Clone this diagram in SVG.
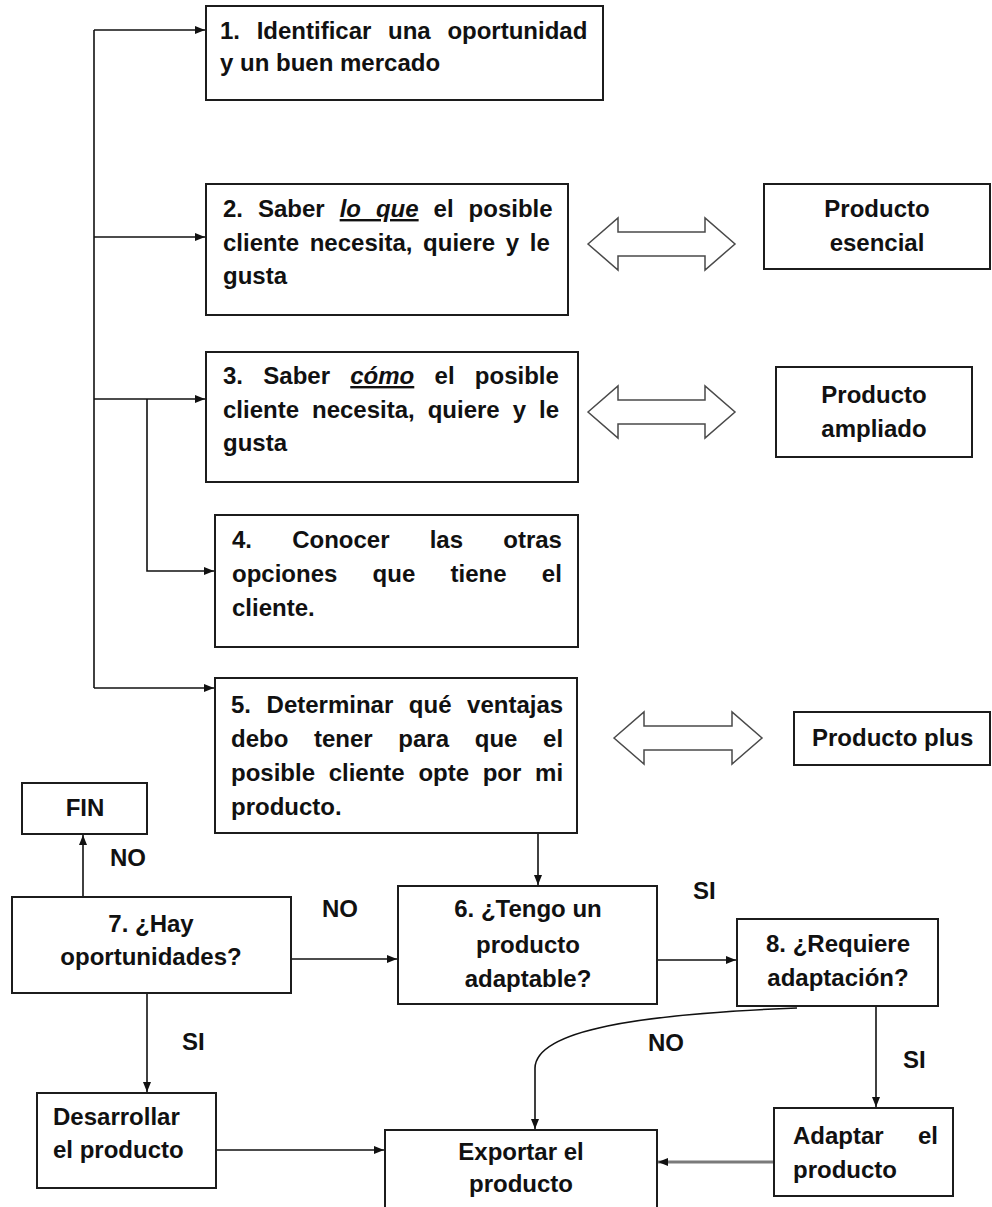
<svg xmlns="http://www.w3.org/2000/svg" width="992" height="1207" viewBox="0 0 992 1207">
  <defs>
    <style>
      .box { fill: #ffffff; stroke: #1c1c1c; stroke-width: 2; }
      .t { font-family: "Liberation Sans", Arial, Helvetica, sans-serif; font-weight: bold; font-size: 24px; fill: #111111; }
      .c { text-anchor: middle; }
      .u { font-style: italic; text-decoration: underline; }
      .ln { fill: none; stroke: #111111; stroke-width: 1.6; }
      .arr { fill: none; stroke: #111111; stroke-width: 1.6; marker-end: url(#ah); }
      .grey { fill: none; stroke: #7a7a7a; stroke-width: 3; marker-end: url(#ah); }
      .dbl { fill: #ffffff; stroke: #4a4a4a; stroke-width: 1.5; stroke-linejoin: miter; }
    </style>
    <marker id="ah" markerWidth="10" markerHeight="8" refX="10" refY="4" orient="auto" markerUnits="userSpaceOnUse">
      <path d="M0,0 L10,4 L0,8 z" fill="#111111"/>
    </marker>
  </defs>

  <rect width="992" height="1207" fill="#ffffff"/>

  <!-- connectors -->
  <g id="connectors">
    <path class="ln" d="M94 30 V688"/>
    <path class="arr" d="M94 30 H205"/>
    <path class="arr" d="M94 237 H205"/>
    <path class="arr" d="M94 399 H205"/>
    <path class="arr" d="M94 688 H214"/>
    <path class="arr" d="M147 399 V571 H214"/>
    <path class="arr" d="M538 833 V885"/>
    <path class="arr" d="M83 897 V835"/>
    <path class="arr" d="M291 959 H397"/>
    <path class="arr" d="M657 960 H736"/>
    <path class="arr" d="M797 1008 C640 1014 536 1030 535 1068 V1129"/>
    <path class="arr" d="M876 1006 V1107"/>
    <path class="grey" d="M774 1162 H658"/>
    <path class="arr" d="M147 993 V1092"/>
    <path class="arr" d="M216 1150 H384"/>

    <!-- two-headed outline arrows -->
    <polygon class="dbl" points="588,244 618,218 618,232 705,232 705,218 735,244 705,270 705,256 618,256 618,270"/>
    <polygon class="dbl" points="588,412 618,386 618,400 705,400 705,386 735,412 705,438 705,424 618,424 618,438"/>
    <polygon class="dbl" points="614,738 644,712 644,726 732,726 732,712 762,738 732,764 732,750 644,750 644,764"/>

    <!-- branch labels -->
    <text class="t" x="110" y="866">NO</text>
    <text class="t" x="322" y="917">NO</text>
    <text class="t" x="693" y="899">SI</text>
    <text class="t" x="648" y="1051">NO</text>
    <text class="t" x="903" y="1068">SI</text>
    <text class="t" x="182" y="1050">SI</text>
  </g>

  <g id="n1">
    <rect class="box" x="206" y="6" width="397" height="94"/>
    <text class="t" x="220" y="39" style="word-spacing:10px">1. Identificar una oportunidad</text>
    <text class="t" x="220" y="71">y un buen mercado</text>
  </g>

  <g id="n2">
    <rect class="box" x="206" y="184" width="362" height="131"/>
    <text class="t" x="223" y="217" style="word-spacing:8.3px">2. Saber <tspan class="u">lo que</tspan> el posible</text>
    <text class="t" x="223" y="251" style="word-spacing:4px">cliente necesita, quiere y le</text>
    <text class="t" x="223" y="284">gusta</text>
  </g>

  <g id="n3">
    <rect class="box" x="206" y="352" width="372" height="130"/>
    <text class="t" x="223" y="384" style="word-spacing:13.6px">3. Saber <tspan class="u">cómo</tspan> el posible</text>
    <text class="t" x="223" y="418" style="word-spacing:6.3px">cliente necesita, quiere y le</text>
    <text class="t" x="223" y="451">gusta</text>
  </g>

  <g id="n4">
    <rect class="box" x="215" y="515" width="363" height="132"/>
    <text class="t" x="232" y="548" style="word-spacing:33.5px">4. Conocer las otras</text>
    <text class="t" x="232" y="582" style="word-spacing:28.6px">opciones que tiene el</text>
    <text class="t" x="232" y="616">cliente.</text>
  </g>

  <g id="n5">
    <rect class="box" x="215" y="678" width="362" height="155"/>
    <text class="t" x="231" y="713" style="word-spacing:8.9px">5. Determinar qué ventajas</text>
    <text class="t" x="231" y="747" style="word-spacing:19px">debo tener para que el</text>
    <text class="t" x="231" y="781" style="word-spacing:7px">posible cliente opte por mi</text>
    <text class="t" x="231" y="815">producto.</text>
  </g>

  <g id="esencial">
    <rect class="box" x="764" y="184" width="226" height="85"/>
    <text class="t c" x="877" y="217">Producto</text>
    <text class="t c" x="877" y="251">esencial</text>
  </g>

  <g id="ampliado">
    <rect class="box" x="776" y="367" width="196" height="90"/>
    <text class="t c" x="874" y="403">Producto</text>
    <text class="t c" x="874" y="437">ampliado</text>
  </g>

  <g id="plus">
    <rect class="box" x="794" y="712" width="196" height="53"/>
    <text class="t" x="812" y="746">Producto plus</text>
  </g>

  <g id="fin">
    <rect class="box" x="22" y="783" width="125" height="51"/>
    <text class="t c" x="85" y="816">FIN</text>
  </g>

  <g id="n7">
    <rect class="box" x="12" y="897" width="279" height="96"/>
    <text class="t c" x="151" y="932">7. ¿Hay</text>
    <text class="t c" x="151" y="965">oportunidades?</text>
  </g>

  <g id="n6">
    <rect class="box" x="398" y="886" width="259" height="118"/>
    <text class="t c" x="528" y="917">6. ¿Tengo un</text>
    <text class="t c" x="528" y="953">producto</text>
    <text class="t c" x="528" y="987">adaptable?</text>
  </g>

  <g id="n8">
    <rect class="box" x="737" y="919" width="201" height="87"/>
    <text class="t c" x="838" y="952">8. ¿Requiere</text>
    <text class="t c" x="838" y="986">adaptación?</text>
  </g>

  <g id="desarrollar">
    <rect class="box" x="37" y="1093" width="179" height="95"/>
    <text class="t" x="53" y="1125">Desarrollar</text>
    <text class="t" x="53" y="1158">el producto</text>
  </g>

  <g id="adaptar">
    <rect class="box" x="774" y="1108" width="179" height="88"/>
    <text class="t" x="793" y="1144" style="word-spacing:27.6px">Adaptar el</text>
    <text class="t" x="793" y="1178">producto</text>
  </g>

  <g id="exportar">
    <rect class="box" x="385" y="1130" width="272" height="100"/>
    <text class="t c" x="521" y="1160">Exportar el</text>
    <text class="t c" x="521" y="1192">producto</text>
  </g>
</svg>
